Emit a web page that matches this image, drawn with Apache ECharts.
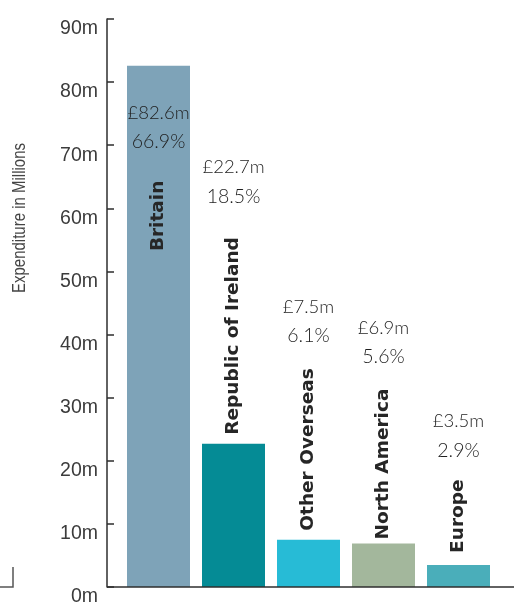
<!DOCTYPE html>
<html>
<head>
<meta charset="utf-8">
<script src="https://cdn.jsdelivr.net/npm/echarts@6/dist/echarts.min.js"></script>
<style>
  html, body { margin: 0; padding: 0; background: #ffffff; }
  #chart { width: 514px; height: 607px; }
</style>
</head>
<body>
<div id="chart"></div>
<script>
// Expenditure by region (millions of pounds) and share of the total
const regions = ['Britain', 'Republic of Ireland', 'Other Overseas', 'North America', 'Europe'];
const spendMillions = [82.6, 22.7, 7.5, 6.9, 3.5];
const sharePercent = [66.9, 18.5, 6.1, 5.6, 2.9];

// Value axis range and step (labels read 0m ... 90m)
const axisMin = 0;
const axisMax = 90;
const axisStep = 10;

// Presentation: bar colours and label placement for each region
const barColors = ['#7ea3b8', '#058b95', '#27bbd6', '#a3b79c', '#4aaeba'];
const nameLabelPlacement = [
  { position: 'insideTop', distance: 115, align: 'right' },
  { position: 'top', distance: 9, align: 'left' },
  { position: 'top', distance: 9, align: 'left' },
  { position: 'top', distance: 4, align: 'left' },
  { position: 'top', distance: 12, align: 'left' }
];
const valueLabelPlacement = [
  { position: 'insideTop', distance: 33 },
  { position: 'top', distance: 233 },
  { position: 'top', distance: 189 },
  { position: 'top', distance: 172 },
  { position: 'top', distance: 100 }
];

const axisFont = '"Liberation Sans", Arial, sans-serif';
const nameFont = '"DejaVu Sans", "Noto Sans", sans-serif';
const valueFont = 'Lato, Roboto, "Noto Sans", sans-serif';

const chart = echarts.init(document.getElementById('chart'), null, { renderer: 'canvas' });

const nameData = spendMillions.map((v, i) => ({
  value: v,
  itemStyle: { color: barColors[i] },
  label: {
    show: true,
    formatter: regions[i],
    position: nameLabelPlacement[i].position,
    distance: nameLabelPlacement[i].distance,
    rotate: 90,
    align: nameLabelPlacement[i].align,
    verticalAlign: 'middle',
    fontFamily: nameFont,
    fontWeight: 'bold',
    fontSize: 18.5,
    color: '#262626'
  }
}));

const valueData = spendMillions.map((v, i) => ({
  value: v,
  label: {
    show: true,
    position: valueLabelPlacement[i].position,
    distance: valueLabelPlacement[i].distance,
    formatter: '{m|£' + v.toFixed(1) + 'm}\n{p|' + sharePercent[i].toFixed(1) + '%}',
    rich: {
      m: { fontFamily: valueFont, fontWeight: 300, fontSize: 18.5, lineHeight: 29, color: '#1f1f1f', align: 'center' },
      p: { fontFamily: valueFont, fontWeight: 300, fontSize: 19.5, lineHeight: 29, color: '#1f1f1f', align: 'center' }
    }
  }
}));

chart.setOption({
  animation: false,
  backgroundColor: '#ffffff',
  grid: { left: 121, right: 18, top: 19, bottom: 20, containLabel: false },
  xAxis: {
    type: 'category',
    data: regions,
    axisLine: { show: false },
    axisTick: { show: false },
    axisLabel: { show: false },
    splitLine: { show: false }
  },
  yAxis: {
    type: 'value',
    min: axisMin,
    max: axisMax,
    interval: axisStep,
    offset: 14,
    axisLine: { show: true, lineStyle: { color: '#2e2e2e', width: 1.5 } },
    axisTick: { show: true, inside: true, length: 7, lineStyle: { color: '#2e2e2e', width: 1.5 } },
    splitLine: { show: false },
    axisLabel: {
      formatter: '{value}m',
      fontFamily: axisFont,
      fontSize: 19.5,
      color: '#3c3c3c',
      margin: 9,
      verticalAlign: 'top'
    }
  },
  graphic: [
    {
      type: 'line',
      shape: { x1: 107, y1: 587, x2: 514, y2: 587 },
      style: { stroke: '#2e2e2e', lineWidth: 1.5 },
      z: 100
    },
    {
      type: 'polyline',
      shape: { points: [[0, 587], [13, 587], [13, 567]] },
      style: { stroke: '#555555', lineWidth: 1.5, fill: null }
    },
    {
      // condensed axis title, read bottom to top
      type: 'text',
      x: 20,
      y: 218,
      rotation: Math.PI / 2,
      scaleX: 0.81,
      style: {
        text: 'Expenditure in Millions',
        fontFamily: axisFont,
        fontSize: 18.5,
        fill: '#444444',
        align: 'center',
        verticalAlign: 'middle'
      }
    }
  ],
  series: [
    {
      type: 'bar',
      barWidth: 63,
      barGap: '-100%',
      data: nameData,
      z: 2
    },
    {
      type: 'bar',
      barWidth: 63,
      barGap: '-100%',
      silent: true,
      itemStyle: { color: 'rgba(0,0,0,0)' },
      data: valueData,
      z: 3
    }
  ]
});
</script>
</body>
</html>
